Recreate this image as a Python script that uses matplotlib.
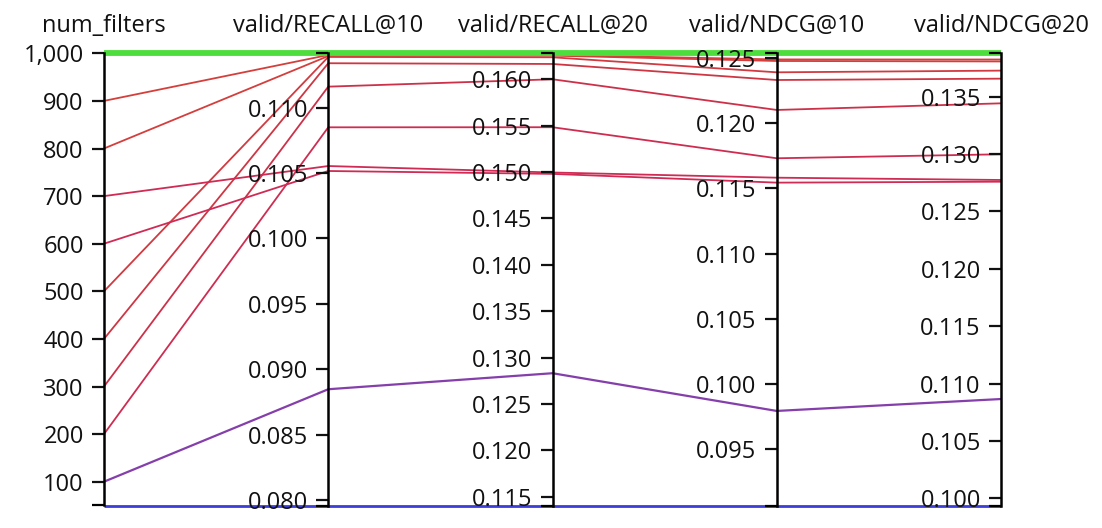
import matplotlib
matplotlib.use("Agg")
import matplotlib.pyplot as plt
import matplotlib.transforms as mtransforms
from matplotlib.colors import LinearSegmentedColormap, Normalize
from matplotlib.ticker import FixedLocator, FuncFormatter
import numpy as np

plt.rcParams['font.family'] = ['Open Sans', 'DejaVu Sans']

# ---------------- data ----------------
dimensions = ["num_filters", "valid/RECALL@10", "valid/RECALL@20",
              "valid/NDCG@10", "valid/NDCG@20"]
num_filters = [50, 100, 200, 300, 400, 500, 600, 700, 800, 900, 1000]
recall_10 = [0.07958, 0.08847, 0.10850, 0.11161, 0.11340, 0.11388,
             0.10516, 0.10554, 0.11395, 0.11403, 0.11416]
recall_20 = [0.11405, 0.12831, 0.15483, 0.16000, 0.16165, 0.16237,
             0.14980, 0.14995, 0.16255, 0.16262, 0.16280]
ndcg_10 = [0.09066, 0.09792, 0.11732, 0.12103, 0.12333, 0.12392,
           0.11545, 0.11583, 0.12479, 0.12491, 0.12538]
ndcg_20 = [0.09937, 0.10865, 0.12998, 0.13442, 0.13657, 0.13727,
           0.12759, 0.12774, 0.13807, 0.13824, 0.13878]

ticks_num_filters = [100, 200, 300, 400, 500, 600, 700, 800, 900, 1000]
ticks_recall_10 = [0.080, 0.085, 0.090, 0.095, 0.100, 0.105, 0.110]
ticks_recall_20 = [0.115, 0.120, 0.125, 0.130, 0.135, 0.140, 0.145, 0.150, 0.155, 0.160]
ticks_ndcg_10 = [0.095, 0.100, 0.105, 0.110, 0.115, 0.120, 0.125]
ticks_ndcg_20 = [0.100, 0.105, 0.110, 0.115, 0.120, 0.125, 0.130, 0.135]

columns = [num_filters, recall_10, recall_20, ndcg_10, ndcg_20]
tick_sets = [ticks_num_filters, ticks_recall_10, ticks_recall_20, ticks_ndcg_10, ticks_ndcg_20]

# ---------------- figure ----------------
W, H = 1102, 528
fig = plt.figure(figsize=(W / 100, H / 100), dpi=100)
left_px, right_px, top_px, bottom_px = 104, 1001, 53.3, 505.5
pos = [left_px / W, 1 - bottom_px / H, (right_px - left_px) / W, (bottom_px - top_px) / H]

host = fig.add_axes(pos)
host.set_xlim(0, len(dimensions) - 1)
host.set_ylim(0, 1)
host.axis("off")

lows = [min(c) for c in columns]
highs = [max(c) for c in columns]

cmap = LinearSegmentedColormap.from_list(
    "pc",
    [(0.0, "#3c3cd8"), (0.25, "#8a3fa8"), (0.70, "#cf2a56"),
     (0.93, "#cc3346"), (0.995, "#d6403a"), (1.0, "#4ddd3c")])
norm = Normalize(min(ndcg_20), max(ndcg_20))

xs = np.arange(len(dimensions))
n_runs = len(num_filters)
for r in range(n_runs):
    vals = [columns[d][r] for d in range(len(dimensions))]
    ys = [(v - lo) / (hi - lo) for v, lo, hi in zip(vals, lows, highs)]
    t = norm(ndcg_20[r])
    col = cmap(t)
    if t >= 0.999:
        lw, z = 4.2, 5
    elif t <= 0.001:
        lw, z = 2.0, 4
    elif t < 0.5:
        lw, z = 1.6, 3
    else:
        lw, z = 1.3, 3
    host.plot(xs, ys, color=col, lw=lw, zorder=z, clip_on=False,
              solid_capstyle="butt")

# ---------------- axes for each dimension ----------------
def fmt_int(v, p):
    return f"{int(round(v)):,}"

def fmt_3(v, p):
    return f"{v:.3f}"

FS = 17
for i, (name, col, ticks) in enumerate(zip(dimensions, columns, tick_sets)):
    ax = fig.add_axes(pos)
    ax.patch.set_alpha(0)
    ax.set_xlim(0, len(dimensions) - 1)
    ax.set_ylim(lows[i], highs[i])
    for s in ["top", "right", "bottom"]:
        ax.spines[s].set_visible(False)
    ax.spines["left"].set_position(("axes", i / (len(dimensions) - 1)))
    ax.spines["left"].set_linewidth(1.8)
    ax.spines["left"].set_zorder(6)
    ax.set_xticks([])
    ax.yaxis.set_major_locator(FixedLocator(ticks))
    ax.yaxis.set_minor_locator(FixedLocator([lows[i], highs[i]]))
    ax.yaxis.set_major_formatter(FuncFormatter(fmt_int if i == 0 else fmt_3))
    ax.tick_params(axis="y", which="major", length=8.5, width=1.6, pad=6,
                   labelsize=FS, colors="#111111")
    ax.tick_params(axis="y", which="minor", length=8.5, width=1.6)
    trans = mtransforms.blended_transform_factory(host.transData, host.transAxes)
    host.text(i, 1.047, name, transform=trans, ha="center", va="baseline",
              fontsize=FS, color="#111111")

fig.savefig("out.png", dpi=100, facecolor="white")
